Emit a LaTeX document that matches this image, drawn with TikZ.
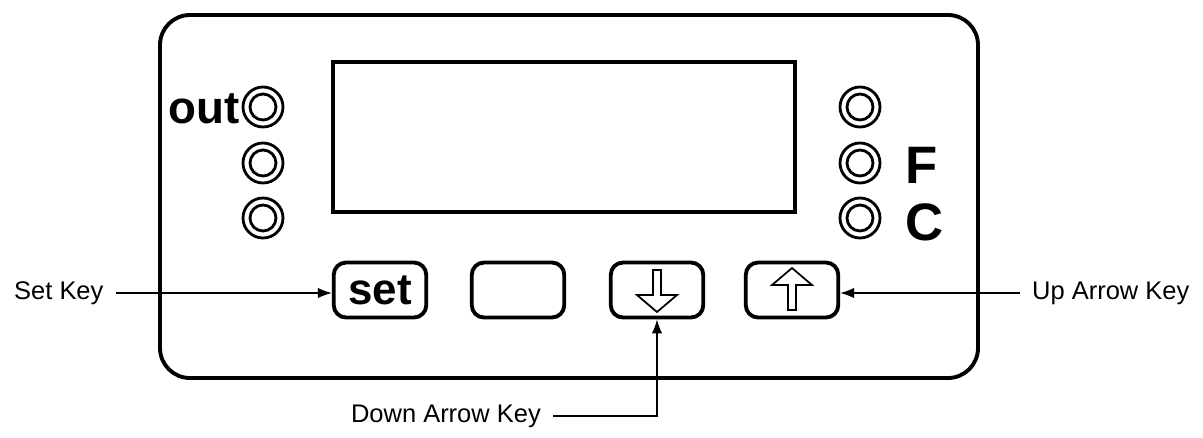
\documentclass[tikz,border=0pt]{standalone}
\usepackage{fontspec}
\setmainfont{Liberation Sans}
\usetikzlibrary{positioning,arrows.meta}
\tikzset{
  key/.style={draw,line width=2.2pt,rounded corners=7pt,minimum width=1.85cm,minimum height=1.1cm,inner sep=0pt},
  lbl/.style={font=\fontsize{14.5}{16}\selectfont},
  big/.style={font=\bfseries\fontsize{26}{28}\selectfont,inner sep=0pt},
  ptr/.style={-{Latex[length=8pt,width=6pt]},line width=0.8pt}
}
\newcommand{\ledring}[1]{\draw[line width=1.6pt] (#1) circle (20) (#1) circle (13);}
\begin{document}
\begin{tikzpicture}[x=0.02cm,y=-0.02cm]
\useasboundingbox (0,0) rectangle (1203,437);
% panel and display
\draw[line width=2.2pt,rounded corners=0.6cm] (160,15) rectangle (978,378);
\draw[line width=2.6pt] (333,62) rectangle (795,212);
% leds
\foreach \y [count=\i] in {107,163,218}{
  \coordinate (l\i) at (263,\y); \ledring{l\i}
  \coordinate (r\i) at (860,\y); \ledring{r\i}
}
\node[big,anchor=east] (out) at (240,109) {out};
\node[big,anchor=west,font=\bfseries\fontsize{30}{32}\selectfont] (f) at (905,165) {F};
\node[big,anchor=west,font=\bfseries\fontsize{30}{32}\selectfont] (c) at (905,222) {C};
% keys
\node[key] (set) at (380,290) {\bfseries\fontsize{25}{27}\selectfont set};
\node[key] (blank) at (518,290) {};
\node[key] (down) at (657,290) {};
\node[key] (up) at (792,290) {};
\draw[line width=1pt] ([shift={(-4,-20)}]down.center) -- ++(0,25) -- ++(-16,0) -- ++(20,17) -- ++(20,-17) -- ++(-16,0) -- ++(0,-25) -- cycle;
\draw[line width=1pt] ([shift={(-4,20)}]up.center) -- ++(0,-25) -- ++(-16,0) -- ++(20,-17) -- ++(20,17) -- ++(-16,0) -- ++(0,25) -- cycle;
% labels
\node[lbl,anchor=west] (setk) at (8,293) {Set Key};
\node[lbl,anchor=west] (upk) at (1026,293) {Up Arrow Key};
\node[lbl,anchor=east] (downk) at (547,416) {Down Arrow Key};
\draw[ptr] (setk.east) ++(6,0) coordinate (s0) -- (s0 -| set.west);
\draw[ptr] (upk.west) ++(-6,0) coordinate (u0) -- (u0 -| up.east);
\draw[ptr] (downk.east) ++(6,0) -| (down.south);
\end{tikzpicture}
\end{document}
